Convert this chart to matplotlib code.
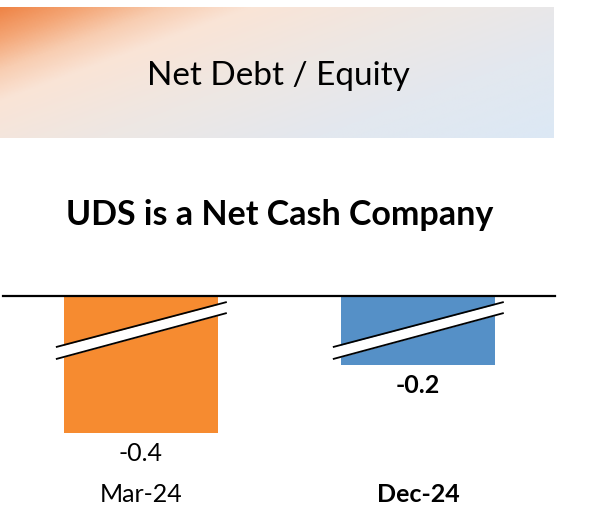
import numpy as np
import matplotlib
matplotlib.use("Agg")
import matplotlib.pyplot as plt
from matplotlib.colors import LinearSegmentedColormap
from matplotlib.transforms import blended_transform_factory

# Données
categories = ["Mar-24", "Dec-24"]
values = [-0.4, -0.2]
value_labels = ["-0.4", "-0.2"]
bar_colors = ["#F68B30", "#5590C7"]
bold_flags = [False, True]

FONT = "Lato"
plt.rcParams["font.family"] = [FONT, "DejaVu Sans"]

fig = plt.figure(figsize=(6.15, 5.12), dpi=100)
W, H = 615, 512

# Bandeau titre avec dégradé
head = fig.add_axes([0, 1 - 138 / H, 554 / W, 131 / H])
xx, yy = np.meshgrid(np.linspace(0, 1, 400), np.linspace(0, 1, 120))
s = xx + 0.63 * yy
stops = [(0.0, "#EF8446"), (0.15 / 1.63, "#F4A676"), (0.3 / 1.63, "#F8CDB1"),
         (0.45 / 1.63, "#FAE4D6"), (0.8 / 1.63, "#EEE7E3"), (1.2 / 1.63, "#E3E8EF"),
         (1.0, "#DCE8F5")]
cmap = LinearSegmentedColormap.from_list("bandeau", stops)
head.imshow(s, cmap=cmap, vmin=0, vmax=1.63, aspect="auto", extent=[0, 1, 1, 0])
head.set_xlim(0, 1)
head.set_ylim(1, 0)
head.axis("off")
head.text(278 / 554, (76 - 7) / 131, "Net Debt / Equity", ha="center", va="center",
          fontsize=24, color="black")

# Sous-titre
fig.text(280 / W, 1 - 215 / H, "UDS is a Net Cash Company", ha="center", va="center",
         fontsize=24.5, fontweight="bold")

# Graphique : axe de 296 px (haut) à 512 px (bas)
ax = fig.add_axes([3 / W, 0, 552 / W, (H - 296) / H])
x = np.arange(len(categories))
ax.bar(x, values, width=0.556, color=bar_colors, zorder=1)
ax.set_xlim(-0.498, 1.495)
ax.set_ylim(-0.63, 0)
ax.axis("off")
ax.axhline(0, color="black", lw=1.6, clip_on=False, zorder=5)

# Marques de rupture
bx = np.array([-0.307, 0.31])
up = np.array([-0.149, -0.0175])
lo = np.array([-0.184, -0.0496])
for xi in x:
    ax.fill_between(xi + bx, lo, up, color="white", zorder=3, lw=0)
    ax.plot(xi + bx, up, color="black", lw=1.3, zorder=4, solid_capstyle="butt")
    ax.plot(xi + bx, lo, color="black", lw=1.3, zorder=4, solid_capstyle="butt")

# Étiquettes
for xi, v, lab, b in zip(x, values, value_labels, bold_flags):
    ax.annotate(lab, (xi, v), xytext=(0, -15), textcoords="offset points",
                ha="center", va="center", fontsize=18,
                fontweight="bold" if b else "normal")

trans = blended_transform_factory(ax.transData, ax.transAxes)
for xi, cat, b in zip(x, categories, bold_flags):
    ax.text(xi, (512 - 495) / 216, cat, transform=trans, ha="center", va="center",
            fontsize=18, fontweight="bold" if b else "normal")

fig.savefig("out.png", dpi=100)
